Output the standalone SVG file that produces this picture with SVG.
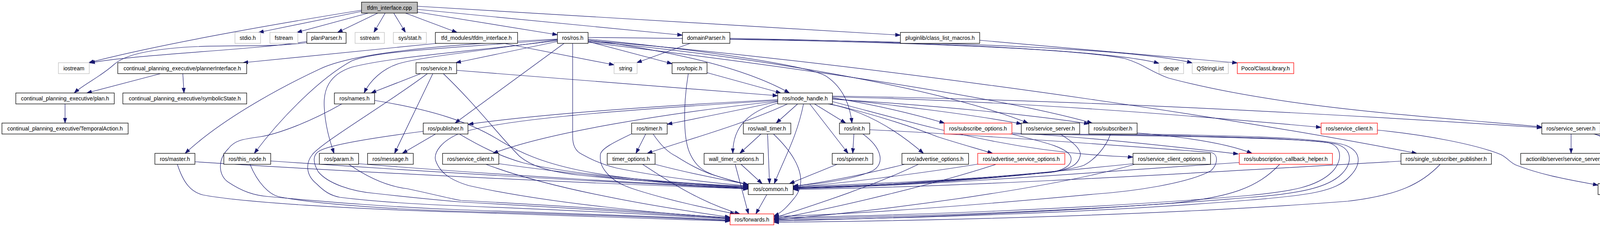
<svg xmlns="http://www.w3.org/2000/svg" width="4451" height="581" viewBox="0 0 4451 581">
<defs>
<style>
.n rect{fill:#fff;stroke:#000;stroke-width:1.3}
.g rect{stroke:#bfbfbf}
.r rect{stroke:#f00}
.root rect{fill:#bfbfbf}
text{font-family:"Liberation Sans",Arial,sans-serif;font-size:14px;text-anchor:middle;fill:#000}
#edges path{fill:none;stroke:#191970;stroke-width:1.2;marker-end:url(#a)}
</style>
<marker id="a" markerUnits="userSpaceOnUse" markerWidth="14" markerHeight="10" refX="13" refY="5" orient="auto"><path d="M0,0.5 L13,5 L0,9.5 z" fill="#191970" stroke="#191970" stroke-width="1"/></marker>
</defs>
<rect width="4451" height="581" fill="#fff"/>
<g id="edges">
<path d="M926,29 L662,83"/>
<path d="M926,26 C700,62 400,115 227,160.5"/>
<path d="M943,33.5 L760,83"/>
<path d="M967,33.5 L864,83"/>
<path d="M986,33.5 L957,83"/>
<path d="M1008,33.5 L1038,83"/>
<path d="M1038,33.5 L1170,83"/>
<path d="M1069,31 L1427,89"/>
<path d="M1069,24 L1747,90"/>
<path d="M1069,16 L2305,90"/>
<path d="M786,106 C650,128 360,138 230,161"/>
<path d="M786,109 C700,122 560,114 470,121 C380,128 320,140 292,165 C255,198 215,215 190,238"/>
<path d="M1118,111 L622,160.5"/>
<path d="M1290,111 L1572,166"/>
<path d="M1428,106 L1167,160.5"/>
<path d="M1427,102 C1250,128 1080,145 1020,163 C980,176 948,205 932,238"/>
<path d="M1427,104 C1200,132 1000,146 900,172 C840,192 828,232 830,272 C832,322 845,362 855,392.5"/>
<path d="M1427,100 C1100,116 900,138 820,176 C700,232 560,312 474,392.5"/>
<path d="M1427,101 C1150,124 960,130 900,156 C820,200 720,300 651,392.5"/>
<path d="M1444,111 L1165,315"/>
<path d="M1466,111 L1466,350 C1466,375 1475,388 1490,395 C1520,412 1545,422 1578,430 C1700,455 1820,468 1915.5,476"/>
<path d="M1505,106 L1720.5,163"/>
<path d="M1505,102 C1700,128 1900,170 2021,238"/>
<path d="M1505,100 C1800,128 2070,168 2115,195 C2160,225 2176,270 2181,315"/>
<path d="M1505,104 C2000,140 3000,270 3627,392.5"/>
<path d="M1505,106 C1900,140 2400,222 2632,315"/>
<path d="M1505,108 C1850,150 2500,232 2796,315"/>
<path d="M1505,96 C2000,100 2700,115 2880,150 C2930,165 2942,182 2992,200 C3300,282 3700,300 3947,325"/>
<path d="M1767,111 L1630,160.5"/>
<path d="M1868,98 C2400,108 2850,130 2967,162"/>
<path d="M1868,100 C2400,106 2900,124 3052,161"/>
<path d="M2508,103 L3167.5,161"/>
<path d="M411,188.5 L222,238"/>
<path d="M468,188.5 L471,238"/>
<path d="M166.5,266 L166.5,315"/>
<path d="M1077,188.5 L950,238"/>
<path d="M1108,188.5 L1010,392.5"/>
<path d="M1094,188.5 C1000,260 830,360 800,395 C780,420 785,450 810,470 C830,490 845,500 870,505 C950,515 1050,522 1180,527 C1500,540 1750,552 1869,562"/>
<path d="M1135,188.5 C1220,270 1280,350 1330,400 C1360,425 1400,438 1480,448 C1650,466 1820,474 1915.5,478"/>
<path d="M1169,180 L1991,245"/>
<path d="M1810,186 L1999,238"/>
<path d="M1762,188.5 C1750,260 1748,350 1765,390 C1780,425 1800,440 1840,452 C1870,462 1895,468 1915.5,474"/>
<path d="M875,266 C780,320 700,345 666,350 C620,356 600,360 585,380 C555,410 560,450 584,466 C620,490 650,500 686,503 C850,518 1000,530 1180,537 C1500,548 1750,556 1869,564"/>
<path d="M959,257 C1100,280 1200,310 1280,360 C1380,420 1500,460 1915.5,480"/>
<path d="M1991,255 C1700,270 1400,290 1199,318"/>
<path d="M1991,259 C1700,290 1400,340 1262,392.5"/>
<path d="M1991,257 C1700,275 1300,300 1180,340 C1130,360 1110,390 1115,410 C1125,440 1150,460 1200,475 C1400,520 1700,548 1869,557"/>
<path d="M1991,260 C1900,280 1800,300 1708,318"/>
<path d="M2016,266 C1900,320 1750,360 1657,392.5"/>
<path d="M2042,266 L1987,315"/>
<path d="M1993,263 C1920,285 1876,320 1876,392.5"/>
<path d="M2057,266 C2040,350 2010,400 1982,470"/>
<path d="M2073,266 L2171,392.5"/>
<path d="M2085,266 L2165,315"/>
<path d="M2131,250 C2250,270 2350,295 2418,315"/>
<path d="M2131,252 C2300,270 2500,295 2615,317"/>
<path d="M2131,254 C2400,270 2650,295 2788,317"/>
<path d="M2120,266 C2200,280 2280,320 2364,392.5"/>
<path d="M2125,266 C2250,295 2350,330 2400,350 C2450,366 2500,380 2541,392.5"/>
<path d="M2131,260 C2400,330 2600,392 2900.5,402"/>
<path d="M2131,248 C2600,258 3100,300 3382,326"/>
<path d="M2131,246 C2700,254 3400,290 3947,327"/>
<path d="M1115,343 L1030,392.5"/>
<path d="M1176,343 C1230,375 1280,400 1340,417 C1500,455 1800,472 1915.5,477"/>
<path d="M1084,336 C960,352 850,370 820,385 C800,395 800,415 815,440 C840,470 900,490 960,495 C1050,505 1120,512 1180,517 C1500,535 1750,550 1869,560"/>
<path d="M918,419 C1300,450 1700,472 1915.5,481"/>
<path d="M893,420.5 C950,460 1000,478 1043,483 C1100,495 1150,508 1180,513 C1500,530 1750,548 1869,559"/>
<path d="M499,414 C900,440 1500,470 1915.5,483"/>
<path d="M454,420.5 C470,470 490,492 520,499 C620,518 900,535 1180,543 C1500,552 1750,560 1869,566"/>
<path d="M693,412 C1100,440 1600,470 1915.5,482"/>
<path d="M640,420.5 C660,470 690,497 712,503 C800,522 1000,535 1180,541 C1500,550 1750,558 1869,565"/>
<path d="M1277,419 C1500,450 1750,475 1915.5,484"/>
<path d="M1244,420.5 C1400,480 1650,525 1869,556"/>
<path d="M1653,343 L1628,392.5"/>
<path d="M1672,343 C1690,370 1710,390 1731,400 C1770,425 1800,440 1833,450 C1865,460 1890,466 1915.5,473"/>
<path d="M1616,343 C1570,365 1540,380 1537,395 C1535,415 1540,430 1560,450 C1580,470 1610,480 1629,486 C1720,515 1820,535 1882,547.5"/>
<path d="M1677,420.5 C1750,440 1850,460 1915.5,472"/>
<path d="M1645,420.5 C1720,470 1800,520 1894,547.5"/>
<path d="M1948,343 L1894,392.5"/>
<path d="M1965,343 L1970,470"/>
<path d="M1980,343 C2040,400 2070,460 2035,505 C2015,530 2000,545 1981,553"/>
<path d="M1897,420.5 L1951,470"/>
<path d="M1882,420.5 L1916,547.5"/>
<path d="M1963,498 L1935,547.5"/>
<path d="M2186,343 L2183,392.5"/>
<path d="M2209,343 C2260,380 2265,420 2234,437 C2180,462 2080,472 2030.5,476"/>
<path d="M2226.6,332 C2500,345 2900,375 3100,390 C3120,395 3118,420 3100,437 C3040,470 2900,490 2800,497 C2500,525 2200,548 1981,554"/>
<path d="M2143,420.5 L2021,470"/>
<path d="M2589,343 C2680,365 2740,380 2742,405 C2744,425 2720,437 2683,442 C2400,465 2150,474 2030.5,478"/>
<path d="M2585,343 C2800,346 3300,350 3400,365 C3440,375 3435,415 3410,440 C3370,480 3300,490 3200,500 C2800,535 2300,552 1981,557"/>
<path d="M2590.5,340 C2800,352 3000,375 3170,394"/>
<path d="M2714,343 C2750,365 2770,385 2765,400 C2760,420 2745,430 2700,440 C2450,465 2200,476 2030.5,480"/>
<path d="M2745,343 C2950,346 3350,350 3425,370 C3465,385 3460,420 3435,445 C3400,480 3330,495 3200,505 C2800,540 2300,556 1981,560"/>
<path d="M2843,343 C2830,380 2800,410 2775,423 C2700,450 2300,476 2030.5,482"/>
<path d="M2905,343 C3100,346 3380,350 3445,372 C3490,390 3482,425 3455,452 C3420,490 3350,500 3200,512 C2800,545 2300,560 1981,563"/>
<path d="M2909,340 C3050,352 3150,370 3205,392.5"/>
<path d="M2316,420.5 C2200,450 2100,468 2030.5,477"/>
<path d="M2351,420.5 C2250,470 2100,520 1981,558"/>
<path d="M2504,420 C2350,445 2150,470 2030.5,479"/>
<path d="M2550,420.5 C2400,470 2150,530 1981,561"/>
<path d="M2901,419 C2600,450 2300,475 2030.5,481"/>
<path d="M2905,420.5 C2700,480 2300,535 1981,563"/>
<path d="M3172.5,416 C2800,440 2400,475 2030.5,483"/>
<path d="M3276,420.5 C3220,480 3150,505 3000,520 C2600,550 2200,560 1981,566"/>
<path d="M3586.5,412.5 C3100,440 2500,478 2030.5,485"/>
<path d="M3687,420.5 C3640,470 3580,500 3450,515 C3000,550 2400,565 1981,569"/>
<path d="M3526,333 C3650,345 3780,370 3843,396 C3860,405 3865,415 3880,422 C3950,450 4030,462 4091,474"/>
<path d="M4022,343 L4022,392.5"/>
<path d="M4080,343 L4272,392.5"/>
<path d="M4083,343 C4150,370 4175,400 4180,430 C4184,450 4186,460 4187,470"/>
<path d="M4307,420.5 L4222,470"/>
</g>
<g id="node-tfdm" class="n root"><rect x="925.5" y="5.5" width="143" height="28"/><text x="997" y="24.5">tfdm_interface.cpp</text></g>
<g id="node-stdio" class="n g"><rect x="601.5" y="83" width="65.5" height="28"/><text x="634.2" y="102">stdio.h</text></g>
<g id="node-fstream" class="n g"><rect x="691" y="83" width="71.5" height="28"/><text x="726.7" y="102">fstream</text></g>
<g id="node-planParser" class="n"><rect x="785.5" y="83" width="100.5" height="28"/><text x="835.7" y="102">planParser.h</text></g>
<g id="node-sstream" class="n g"><rect x="909" y="83" width="75" height="28"/><text x="946.5" y="102">sstream</text></g>
<g id="node-sysstat" class="n g"><rect x="1007" y="83" width="84.5" height="28"/><text x="1049.2" y="102">sys/stat.h</text></g>
<g id="node-tfdmh" class="n"><rect x="1114.5" y="83" width="210.5" height="28"/><text x="1219.7" y="102">tfd_modules/tfdm_interface.h</text></g>
<g id="node-rosh" class="n"><rect x="1427" y="83" width="78.5" height="28"/><text x="1466.2" y="102">ros/ros.h</text></g>
<g id="node-domainParser" class="n"><rect x="1747" y="83" width="121.5" height="28"/><text x="1807.7" y="102">domainParser.h</text></g>
<g id="node-pluginlib" class="n"><rect x="2305" y="83" width="203" height="28"/><text x="2406.5" y="102">pluginlib/class_list_macros.h</text></g>
<g id="node-iostream" class="n g"><rect x="149.5" y="160.5" width="79" height="28"/><text x="189" y="179.5">iostream</text></g>
<g id="node-plannerInterface" class="n"><rect x="301.5" y="160.5" width="330" height="28"/><text x="466.5" y="179.5">continual_planning_executive/plannerInterface.h</text></g>
<g id="node-service" class="n"><rect x="1065" y="160.5" width="104" height="28"/><text x="1117" y="179.5">ros/service.h</text></g>
<g id="node-string" class="n g"><rect x="1572" y="160.5" width="59" height="28"/><text x="1601.5" y="179.5">string</text></g>
<g id="node-topic" class="n"><rect x="1720.5" y="160.5" width="89.5" height="28"/><text x="1765.2" y="179.5">ros/topic.h</text></g>
<g id="node-deque" class="n g"><rect x="2967" y="160.5" width="63" height="28"/><text x="2998.5" y="179.5">deque</text></g>
<g id="node-qstringlist" class="n g"><rect x="3052" y="160.5" width="92.5" height="28"/><text x="3098.2" y="179.5">QStringList</text></g>
<g id="node-poco" class="n r"><rect x="3167.5" y="160.5" width="144.5" height="28"/><text x="3239.7" y="179.5">Poco/ClassLibrary.h</text></g>
<g id="node-plan" class="n"><rect x="40.5" y="238" width="252" height="28"/><text x="166.5" y="257">continual_planning_executive/plan.h</text></g>
<g id="node-symbolic" class="n"><rect x="314.5" y="238" width="317" height="28"/><text x="473" y="257">continual_planning_executive/symbolicState.h</text></g>
<g id="node-names" class="n"><rect x="856" y="238" width="103" height="28"/><text x="907.5" y="257">ros/names.h</text></g>
<g id="node-nodehandle" class="n"><rect x="1991" y="238" width="140" height="28"/><text x="2061" y="257">ros/node_handle.h</text></g>
<g id="node-temporal" class="n"><rect x="5" y="315" width="323" height="28"/><text x="166.5" y="334">continual_planning_executive/TemporalAction.h</text></g>
<g id="node-publisher" class="n"><rect x="1083.5" y="315" width="114.5" height="28"/><text x="1140.7" y="334">ros/publisher.h</text></g>
<g id="node-timer" class="n"><rect x="1617" y="315" width="91" height="28"/><text x="1662.5" y="334">ros/timer.h</text></g>
<g id="node-walltimer" class="n"><rect x="1903" y="315" width="121.5" height="28"/><text x="1963.7" y="334">ros/wall_timer.h</text></g>
<g id="node-init" class="n"><rect x="2149" y="315" width="77.5" height="28"/><text x="2187.7" y="334">ros/init.h</text></g>
<g id="node-subopts" class="n r"><rect x="2417" y="315" width="173.5" height="28"/><text x="2503.7" y="334">ros/subscribe_options.h</text></g>
<g id="node-srvserver1" class="n"><rect x="2614.5" y="315" width="149.5" height="28"/><text x="2689.2" y="334">ros/service_server.h</text></g>
<g id="node-subscriber" class="n"><rect x="2787.5" y="315" width="123.5" height="28"/><text x="2849.2" y="334">ros/subscriber.h</text></g>
<g id="node-srvclient2" class="n r"><rect x="3382" y="315" width="144" height="28"/><text x="3454" y="334">ros/service_client.h</text></g>
<g id="node-srvserver2" class="n"><rect x="3947" y="315" width="149.5" height="28"/><text x="4021.7" y="334">ros/service_server.h</text></g>
<g id="node-master" class="n"><rect x="396.5" y="392.5" width="102.5" height="28"/><text x="447.7" y="411.5">ros/master.h</text></g>
<g id="node-thisnode" class="n"><rect x="573" y="392.5" width="120" height="28"/><text x="633" y="411.5">ros/this_node.h</text></g>
<g id="node-param" class="n"><rect x="817.5" y="392.5" width="100.5" height="28"/><text x="867.7" y="411.5">ros/param.h</text></g>
<g id="node-message" class="n"><rect x="941" y="392.5" width="117" height="28"/><text x="999.5" y="411.5">ros/message.h</text></g>
<g id="node-srvclient1" class="n"><rect x="1133" y="392.5" width="144" height="28"/><text x="1205" y="411.5">ros/service_client.h</text></g>
<g id="node-timeropts" class="n"><rect x="1554.5" y="392.5" width="122.5" height="28"/><text x="1615.7" y="411.5">timer_options.h</text></g>
<g id="node-walltimeropts" class="n"><rect x="1802.5" y="392.5" width="152" height="28"/><text x="1878.5" y="411.5">wall_timer_options.h</text></g>
<g id="node-spinner" class="n"><rect x="2130.5" y="392.5" width="104" height="28"/><text x="2182.5" y="411.5">ros/spinner.h</text></g>
<g id="node-advopts" class="n"><rect x="2309" y="392.5" width="170.5" height="28"/><text x="2394.2" y="411.5">ros/advertise_options.h</text></g>
<g id="node-advsrvopts" class="n r"><rect x="2503" y="392.5" width="223" height="28"/><text x="2614.5" y="411.5">ros/advertise_service_options.h</text></g>
<g id="node-srvclientopts" class="n"><rect x="2900.5" y="392.5" width="198.5" height="28"/><text x="2999.7" y="411.5">ros/service_client_options.h</text></g>
<g id="node-subcb" class="n r"><rect x="3172.5" y="392.5" width="238.5" height="28"/><text x="3291.7" y="411.5">ros/subscription_callback_helper.h</text></g>
<g id="node-single" class="n"><rect x="3586.5" y="392.5" width="231.5" height="28"/><text x="3702.2" y="411.5">ros/single_subscriber_publisher.h</text></g>
<g id="node-srvimp" class="n"><rect x="3893" y="392.5" width="258" height="28"/><text x="4022" y="411.5">actionlib/server/service_server_imp.h</text></g>
<g id="node-actserver" class="n r"><rect x="4224.5" y="392.5" width="220.5" height="28"/><text x="4334.7" y="411.5">actionlib/server/action_server.h</text></g>
<g id="node-common" class="n"><rect x="1915.5" y="470" width="115" height="28"/><text x="1973" y="489">ros/common.h</text></g>
<g id="node-actdef" class="n"><rect x="4091" y="470" width="195" height="28"/><text x="4188.5" y="489">actionlib/action_definition.h</text></g>
<g id="node-forwards" class="n r"><rect x="1869" y="547.5" width="112" height="28"/><text x="1925" y="566.5">ros/forwards.h</text></g>
</svg>
